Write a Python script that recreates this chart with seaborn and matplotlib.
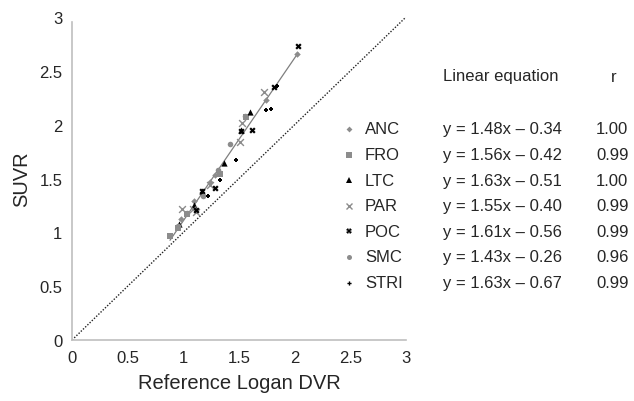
import pandas as pd
import seaborn as sns
from matplotlib import pyplot as plt
from matplotlib.lines import Line2D

# regions, legend table values
regions = ["ANC", "FRO", "LTC", "PAR", "POC", "SMC", "STRI"]
equations = ["y = 1.48x \u2013 0.34", "y = 1.56x \u2013 0.42", "y = 1.63x \u2013 0.51",
             "y = 1.55x \u2013 0.40", "y = 1.61x \u2013 0.56", "y = 1.43x \u2013 0.26",
             "y = 1.63x \u2013 0.67"]
r_values = ["1.00", "0.99", "1.00", "0.99", "0.99", "0.96", "0.99"]

# DVR (x) and SUVR (y) per region
anc_x = [0.98, 1.10, 1.24, 1.28, 1.74, 2.02]
anc_y = [1.12, 1.29, 1.47, 1.53, 2.23, 2.66]
fro_x = [0.88, 0.95, 1.03, 1.33, 1.56]
fro_y = [0.97, 1.04, 1.17, 1.54, 2.07]
ltc_x = [0.965, 1.10, 1.17, 1.365, 1.52, 1.60]
ltc_y = [1.08, 1.25, 1.38, 1.645, 1.95, 2.12]
par_x = [0.985, 1.09, 1.11, 1.24, 1.51, 1.53, 1.725]
par_y = [1.22, 1.22, 1.19, 1.44, 1.84, 2.02, 2.30]
poc_x = [1.11, 1.17, 1.28, 1.52, 1.62, 1.81, 2.03]
poc_y = [1.21, 1.38, 1.41, 1.94, 1.95, 2.35, 2.73]
smc_x = [0.95, 1.03, 1.18, 1.31, 1.42, 1.555]
smc_y = [1.06, 1.18, 1.34, 1.58, 1.82, 2.08]
stri_x = [1.225, 1.33, 1.47, 1.74, 1.79, 1.84]
stri_y = [1.34, 1.49, 1.67, 2.14, 2.15, 2.36]

xs = [anc_x, fro_x, ltc_x, par_x, poc_x, smc_x, stri_x]
ys = [anc_y, fro_y, ltc_y, par_y, poc_y, smc_y, stri_y]

rows = []
for reg, xv, yv in zip(regions, xs, ys):
    for a, b in zip(xv, yv):
        rows.append({"region": reg, "dvr": a, "suvr": b})
df = pd.DataFrame(rows)

gray = "#8c8c8c"
styles = {
    "ANC": dict(marker="D", color=gray, s=11),
    "FRO": dict(marker="s", color=gray, s=17),
    "LTC": dict(marker="^", color="black", s=20),
    "PAR": dict(marker="x", color=gray, s=24),
    "POC": dict(marker="X", color="black", s=20),
    "SMC": dict(marker="o", color=gray, s=16),
    "STRI": dict(marker="P", color="black", s=11),
}

sns.set_style("white")
plt.rcParams["font.family"] = ["Liberation Sans", "DejaVu Sans"]

fig = plt.figure(figsize=(6.34, 4.02), dpi=100)
ax = fig.add_axes([0.1136, 0.1517, 0.5268, 0.8035])

ax.axline((0, 0), slope=1, color="#222222", lw=1, ls=(0, (1, 1.2)))
sns.regplot(data=df, x="dvr", y="suvr", scatter=False, ci=None, truncate=True,
            color="#7f7f7f", line_kws={"lw": 0.9}, ax=ax)

for reg in regions:
    st = styles[reg]
    sub = df[df["region"] == reg]
    kw = dict(linewidth=1) if st["marker"] == "x" else dict(linewidth=0)
    sns.scatterplot(data=sub, x="dvr", y="suvr", marker=st["marker"],
                    color=st["color"], s=st["s"], ax=ax, zorder=3, **kw)

ticks = [0, 0.5, 1, 1.5, 2, 2.5, 3]
tick_labels = ["0", "0.5", "1", "1.5", "2", "2.5", "3"]
ax.set_xlim(0, 3)
ax.set_ylim(0, 3)
ax.set_xticks(ticks)
ax.set_yticks(ticks)
ax.set_xticklabels(tick_labels)
ax.set_yticklabels(tick_labels)
ax.tick_params(length=0, labelsize=12, pad=7)
ax.set_xlabel("Reference Logan DVR", fontsize=14.5, labelpad=6)
ax.set_ylabel("SUVR", fontsize=14.5, labelpad=6)
for side in ["top", "right"]:
    ax.spines[side].set_visible(False)
for side in ["left", "bottom"]:
    ax.spines[side].set_color("#bfbfbf")
    ax.spines[side].set_linewidth(1.2)
ax.spines["left"].set_bounds(0, 2.95)

# legend table
fs = 12
fig.text(443 / 634, 1 - 77 / 402, "Linear equation", fontsize=fs, va="center")
fig.text(614 / 634, 1 - 77 / 402, "r", fontsize=fs, va="center", ha="center")
for i, reg in enumerate(regions):
    yy = 1 - (130 + i * 25.6) / 402
    st = styles[reg]
    mk = Line2D([349 / 634], [yy], transform=fig.transFigure, marker=st["marker"],
                color=st["color"], markersize=(st["s"] ** 0.5) * 0.9,
                markeredgewidth=1 if st["marker"] == "x" else 0, ls="none")
    fig.lines.append(mk)
    fig.text(365 / 634, yy, reg, fontsize=fs, va="center")
    fig.text(443 / 634, yy, equations[i], fontsize=fs, va="center")
    fig.text(596 / 634, yy, r_values[i], fontsize=fs, va="center")

fig.savefig("out.png", dpi=100)
